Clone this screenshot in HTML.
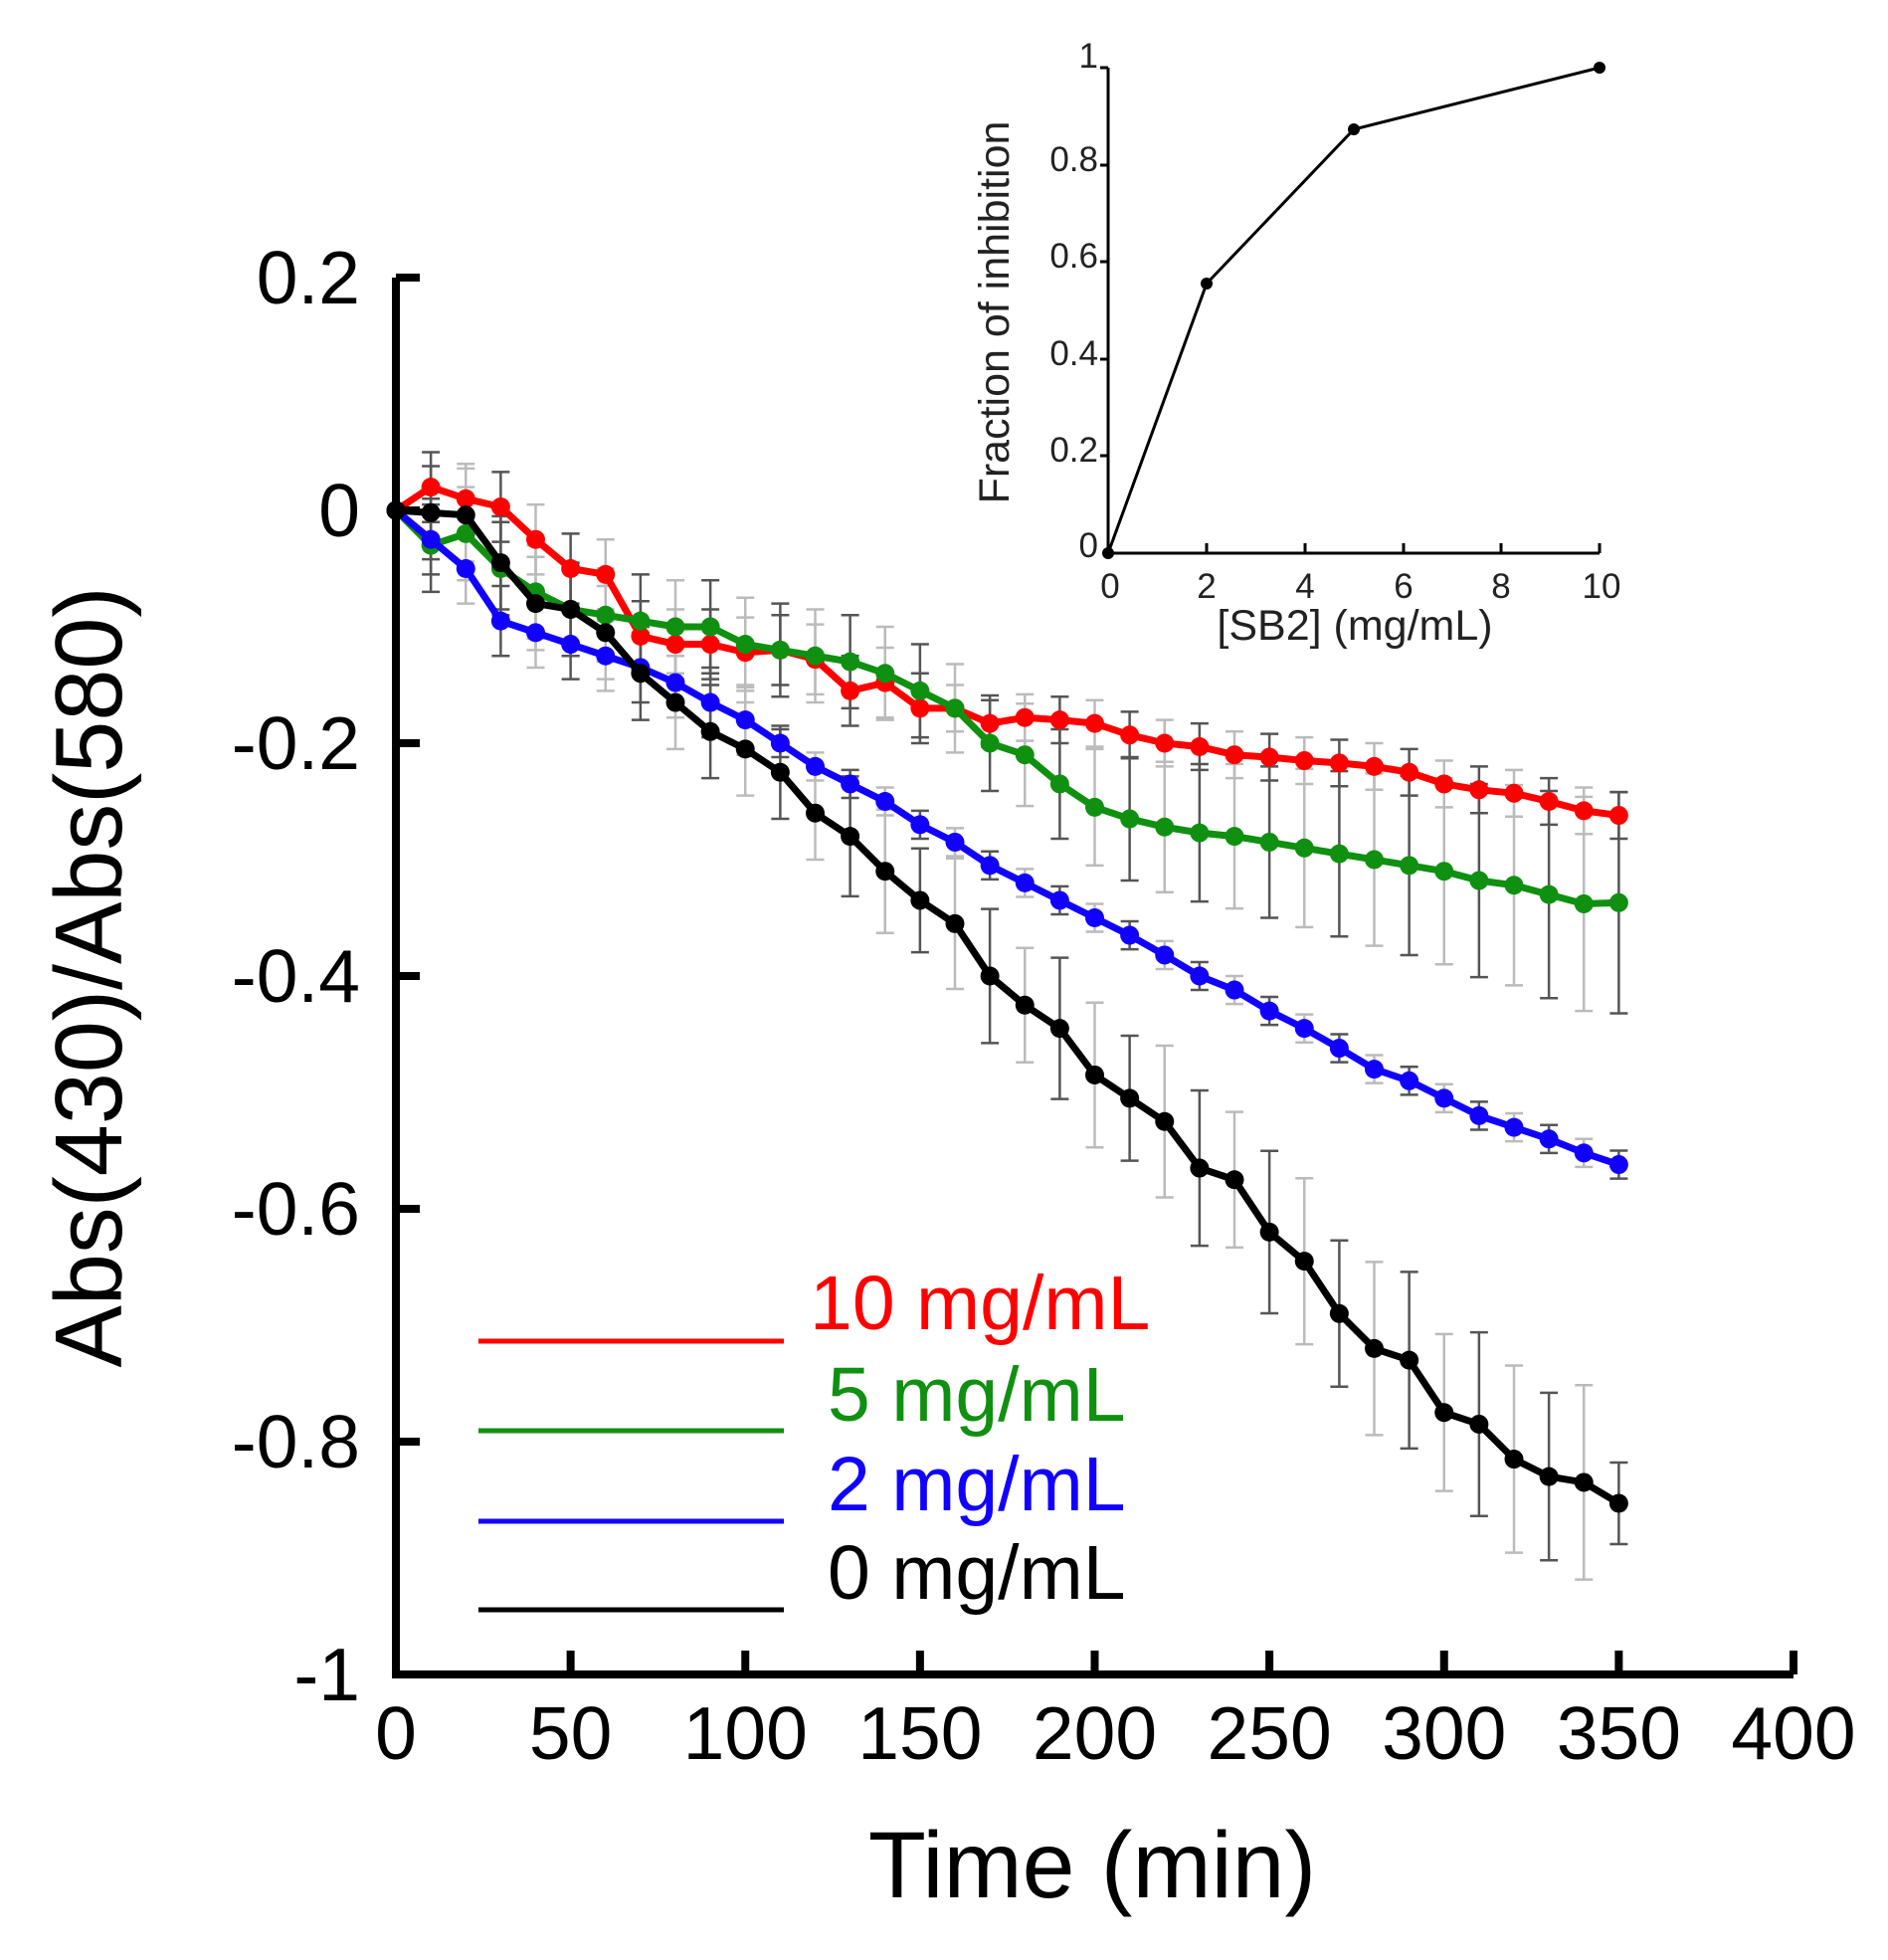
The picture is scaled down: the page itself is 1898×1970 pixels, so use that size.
<!DOCTYPE html>
<html><head><meta charset="utf-8"><style>html,body{margin:0;padding:0;background:#fff}svg{display:block}text{font-family:"Liberation Sans",Arial,sans-serif}</style></head>
<body>
<svg id="s" width="1898" height="1970" xmlns="http://www.w3.org/2000/svg">
<rect width="1898" height="1970" fill="#fff"/>
<g id="err"></g>
<g id="ser"></g>
<path d="M398,279 V1683 H1803" fill="none" stroke="#000" stroke-width="8"/>
<g id="ticks" stroke="#000" stroke-width="8"></g>
<g font-size="75" fill="#000" text-anchor="end">
<text x="362" y="305">0.2</text><text x="362" y="539">0</text><text x="362" y="773">-0.2</text>
<text x="362" y="1007">-0.4</text><text x="362" y="1241">-0.6</text><text x="362" y="1475">-0.8</text><text x="362" y="1709">-1</text>
</g>
<g font-size="75" fill="#000" text-anchor="middle" id="xl"></g>
<text x="1098" y="1907" font-size="95" text-anchor="middle">Time (min)</text>
<text transform="translate(122,982) rotate(-90)" font-size="96" text-anchor="middle" textLength="785" lengthAdjust="spacingAndGlyphs">Abs(430)/Abs(580)</text>
<g stroke-width="5">
<line x1="481" y1="1348" x2="788" y2="1348" stroke="#f00"/>
<line x1="481" y1="1438" x2="788" y2="1438" stroke="#109010"/>
<line x1="481" y1="1529" x2="788" y2="1529" stroke="#10f"/>
<line x1="481" y1="1618" x2="788" y2="1618" stroke="#000"/>
</g>
<g font-size="77">
<text x="814" y="1336" fill="#f00">10 mg/mL</text>
<text x="832" y="1428" fill="#109010">5 mg/mL</text>
<text x="832" y="1518" fill="#10f">2 mg/mL</text>
<text x="832" y="1607" fill="#000">0 mg/mL</text>
</g>
<path d="M1114,68 V556 H1608" fill="none" stroke="#000" stroke-width="3"/>
<g stroke="#000" stroke-width="3">
<line x1="1106" y1="68" x2="1114" y2="68"/><line x1="1106" y1="166" x2="1114" y2="166"/><line x1="1106" y1="263" x2="1114" y2="263"/><line x1="1106" y1="361" x2="1114" y2="361"/><line x1="1106" y1="458" x2="1114" y2="458"/>
<line x1="1213" y1="556" x2="1213" y2="546"/><line x1="1312" y1="556" x2="1312" y2="546"/><line x1="1411" y1="556" x2="1411" y2="546"/><line x1="1509" y1="556" x2="1509" y2="546"/><line x1="1608" y1="556" x2="1608" y2="546"/>
</g>
<g font-size="35" text-anchor="end" fill="#222">
<text x="1104" y="68">1</text><text x="1104" y="172">0.8</text><text x="1104" y="269">0.6</text><text x="1104" y="367">0.4</text><text x="1104" y="464">0.2</text><text x="1104" y="560">0</text>
</g>
<g font-size="35" text-anchor="middle" fill="#222">
<text x="1116" y="601">0</text><text x="1213" y="601">2</text><text x="1312" y="601">4</text><text x="1411" y="601">6</text><text x="1509" y="601">8</text><text x="1610" y="601">10</text>
</g>
<text x="1362" y="643" font-size="43" text-anchor="middle" fill="#222">[SB2] (mg/mL)</text>
<text transform="translate(1014,314) rotate(-90)" font-size="43" text-anchor="middle" fill="#222">Fraction of inhibition</text>
<polyline points="1114,556 1213,285 1361,130 1608,68" fill="none" stroke="#000" stroke-width="3"/>
<g fill="#000"><circle cx="1114" cy="556" r="6"/><circle cx="1213" cy="285" r="6"/><circle cx="1361" cy="130" r="6"/><circle cx="1608" cy="68" r="6"/></g>
</svg>
<script>
var NS="http://www.w3.org/2000/svg";
function X(t){return 398+t*3.5125}
function Y(v){return 513-v*1170}
function el(p,n,a){var e=document.createElementNS(NS,n);for(var k in a)e.setAttribute(k,a[k]);p.appendChild(e);return e}
var tk=document.getElementById("ticks");
for(var i=0;i<=6;i++){var y=279+i*234;el(tk,"line",{x1:398,y1:y,x2:422,y2:y});}
var xl=document.getElementById("xl");
for(var i=0;i<=8;i++){var x=X(i*50);el(tk,"line",{x1:x,y1:1683,x2:x,y2:1659});var t=el(xl,"text",{x:x,y:1768});t.textContent=String(i*50);}
var red=[0,0.02,0.01,0.003,-0.025,-0.05,-0.055,-0.108,-0.115,-0.115,-0.122,-0.12,-0.128,-0.155,-0.148,-0.17,-0.17,-0.183,-0.178,-0.18,-0.183,-0.193,-0.2,-0.203,-0.21,-0.212,-0.215,-0.217,-0.22,-0.225,-0.235,-0.24,-0.243,-0.25,-0.258,-0.262];
var grn=[0,-0.03,-0.02,-0.05,-0.07,-0.085,-0.09,-0.095,-0.1,-0.1,-0.115,-0.12,-0.125,-0.13,-0.14,-0.155,-0.17,-0.2,-0.21,-0.235,-0.255,-0.265,-0.272,-0.277,-0.28,-0.285,-0.29,-0.295,-0.3,-0.305,-0.31,-0.318,-0.322,-0.33,-0.338,-0.337];
var blu=[0,-0.025,-0.05,-0.095,-0.105,-0.115,-0.125,-0.135,-0.148,-0.165,-0.18,-0.2,-0.22,-0.235,-0.25,-0.27,-0.285,-0.305,-0.32,-0.335,-0.35,-0.365,-0.382,-0.4,-0.412,-0.43,-0.445,-0.462,-0.48,-0.49,-0.505,-0.52,-0.53,-0.54,-0.552,-0.562];
var blk=[0,-0.002,-0.004,-0.045,-0.08,-0.085,-0.105,-0.14,-0.165,-0.19,-0.205,-0.225,-0.26,-0.28,-0.31,-0.335,-0.355,-0.4,-0.425,-0.445,-0.485,-0.505,-0.525,-0.565,-0.575,-0.62,-0.645,-0.69,-0.72,-0.73,-0.775,-0.785,-0.815,-0.83,-0.835,-0.853];
var eg=document.getElementById("err"),sg=document.getElementById("ser");
function errs(d,f){for(var i=1;i<d.length;i++){var t=i*10,e=f(t,i);if(e<=0)continue;var c=(i%2)?"#555":"#bbb",x=X(t);
el(eg,"line",{x1:x,y1:Y(d[i]+e),x2:x,y2:Y(d[i]-e),stroke:c,"stroke-width":2.5});
el(eg,"line",{x1:x-9,y1:Y(d[i]+e),x2:x+9,y2:Y(d[i]+e),stroke:c,"stroke-width":2.5});
el(eg,"line",{x1:x-9,y1:Y(d[i]-e),x2:x+9,y2:Y(d[i]-e),stroke:c,"stroke-width":2.5});}}
errs(blk,function(t,i){if(t==350)return 0.035;return t<=120?0.04:0.04+0.035*(t-120)/230+((i%3)?0.01:0)});
errs(grn,function(t,i){return t<=150?0.04:0.035+0.06*(t-150)/200});
errs(red,function(t){return t<=150?0.03:0.02});
errs(blu,function(t){return t<=100?0.03:0.012});
function ser(d,c){var p=d.map(function(v,i){return X(i*10)+","+Y(v)}).join(" ");
el(sg,"polyline",{points:p,fill:"none",stroke:c,"stroke-width":7,"stroke-linejoin":"round"});
d.forEach(function(v,i){el(sg,"circle",{cx:X(i*10),cy:Y(v),r:9.5,fill:c})});}
ser(red,"#f00");ser(grn,"#109010");ser(blu,"#10f");ser(blk,"#000");
</script>
</body></html>
